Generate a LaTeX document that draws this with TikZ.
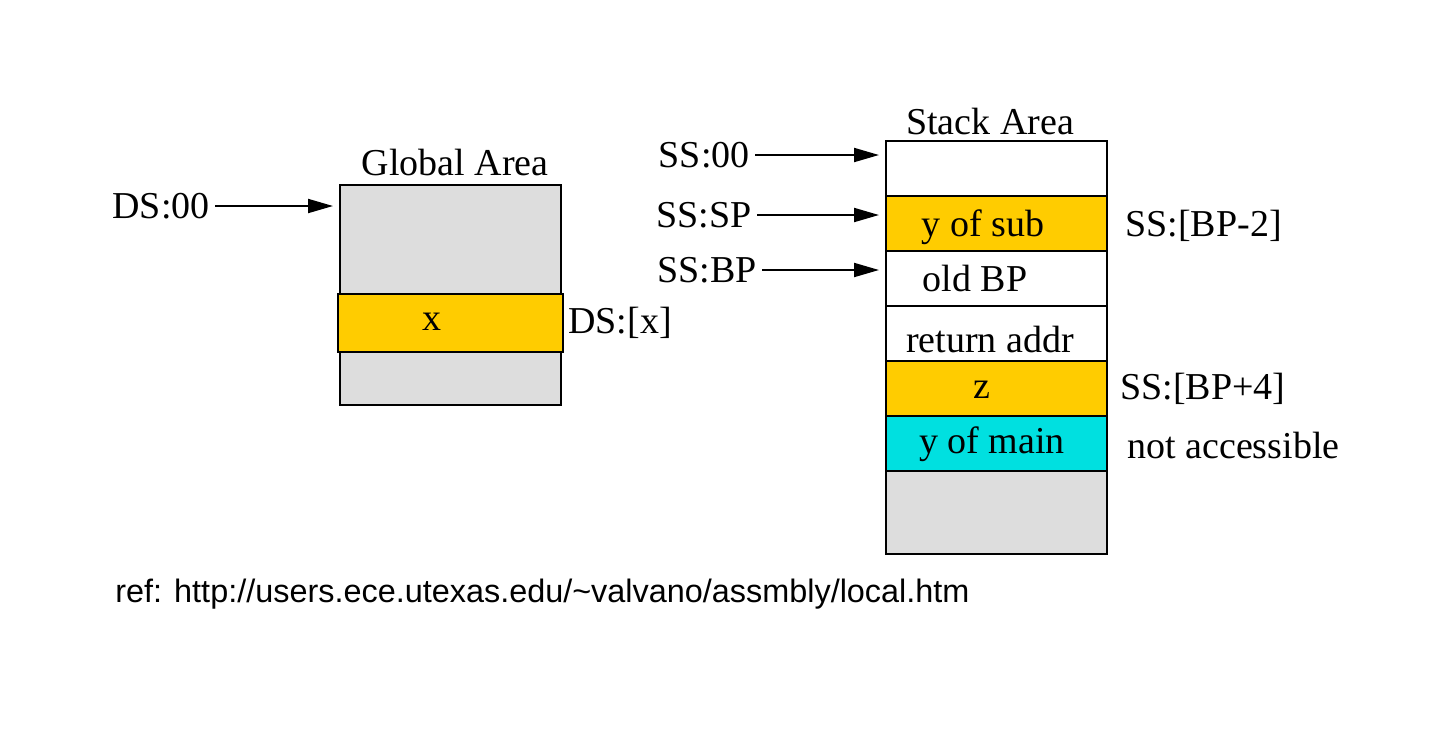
\documentclass[tikz,border=0pt]{standalone}
\usepackage{fontspec}
\setmainfont{Liberation Serif}
\setsansfont{Liberation Sans}
\usetikzlibrary{arrows.meta}
\definecolor{areagray}{HTML}{DDDDDD}
\definecolor{varyellow}{HTML}{FFCC00}
\definecolor{varcyan}{HTML}{00E0E0}
\begin{document}
\begin{tikzpicture}[x=0.5pt,y=-0.5pt,
  cell/.style={draw=black, line width=1pt, minimum width=110.5pt, inner sep=0pt, outer sep=0pt},
  lbl/.style={inner sep=0pt, font=\fontsize{19}{23}\selectfont},
  ptr/.style={line width=1pt, -{Triangle[length=12.5pt,width=7pt]}, shorten >=3.5pt, shorten <=2.5pt}]
\useasboundingbox (0,0) rectangle (1451,730);
% Global area
\node[cell, fill=areagray, minimum height=110pt] (gbox) at (450.5,295) {};
\node[cell, fill=varyellow, minimum width=112.5pt, minimum height=29pt] (gx) at (450.5,323) {};
\node[lbl] (gxt) at (432,322) {x};
\node[lbl] (gtitle) at (455,162) {Global Area};
\node[lbl, anchor=west] (dsx) at (568,323) {DS:[x]};
\node[lbl, anchor=east] (ds00) at (210,206) {DS:00};
\draw[ptr] (ds00.east) -- (ds00.east -| gbox.west);
% Stack area
\node[cell, fill=white, minimum height=27.5pt] (r1) at (996.5,168.5) {};
\node[cell, fill=varyellow, minimum height=27.5pt] (r2) at (996.5,223.5) {};
\node[cell, fill=white, minimum height=27.5pt] (r3) at (996.5,278.5) {};
\node[cell, fill=white, minimum height=27.5pt] (r4) at (996.5,333.5) {};
\node[cell, fill=varyellow, minimum height=27.5pt] (r5) at (996.5,388.5) {};
\node[cell, fill=varcyan, minimum height=27.5pt] (r6) at (996.5,443.5) {};
\node[cell, fill=areagray, minimum height=41.5pt] (r7) at (996.5,512.5) {};
\node[lbl] (t2) at (983,227) {y of sub};
\node[lbl] (t3) at (975,278) {old BP};
\node[lbl] (t4) at (990,339) {return addr};
\node[lbl] (t5) at (982,390) {z};
\node[lbl] (t6) at (992,444) {y of main};
\node[lbl] (stitle) at (990,121) {Stack Area};
\node[lbl, anchor=west] (bpm2) at (1125,226) {SS:[BP-2]};
\node[lbl, anchor=west] (bpp4) at (1120,389) {SS:[BP+4]};
\node[lbl, anchor=west] (nacc) at (1127,445) {not accessible};
\node[lbl, anchor=east] (ss00) at (750,155) {SS:00};
\node[lbl, anchor=east] (sssp) at (752,215) {SS:SP};
\node[lbl, anchor=east] (ssbp) at (757,270) {SS:BP};
\draw[ptr] (ss00.east) -- (ss00.east -| r1.west);
\draw[ptr] (sssp.east) -- (sssp.east -| r2.west);
\draw[ptr] (ssbp.east) -- (ssbp.east -| r3.west);
% reference
\node[inner sep=0pt, anchor=west] (ref) at (115,594) {\resizebox{427pt}{!}{\sffamily ref: http://users.ece.utexas.edu/\textasciitilde valvano/assmbly/local.htm}};
\end{tikzpicture}
\end{document}
